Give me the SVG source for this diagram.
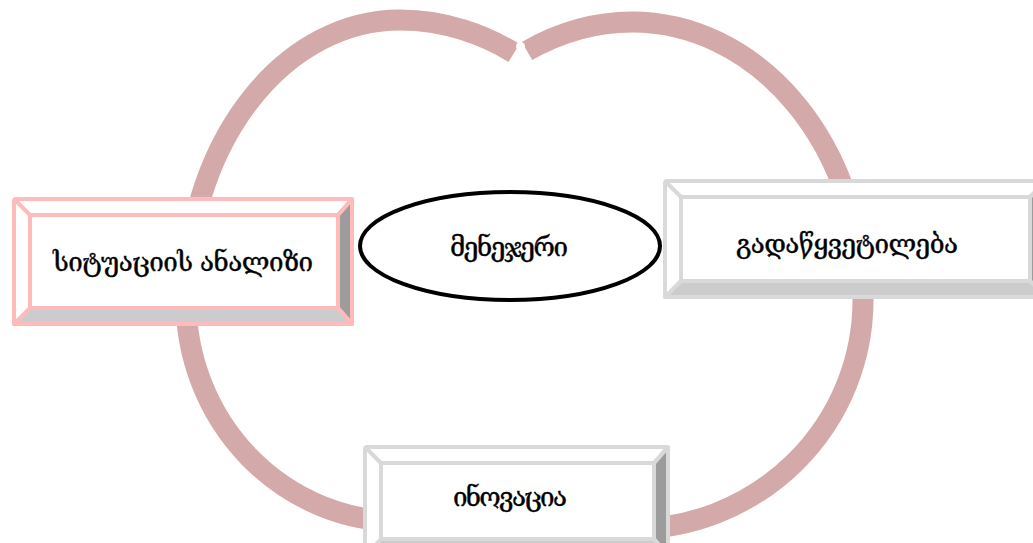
<svg xmlns="http://www.w3.org/2000/svg" width="1033" height="543" viewBox="0 0 1033 543">
<style>
.band{fill:none;stroke:#D3A9A9;stroke-width:21;stroke-linecap:butt}
.pk{stroke:#FFBBBB;stroke-width:4;stroke-linejoin:round}
.gy{stroke:#D9D9D9;stroke-width:4;stroke-linejoin:round}
.face{fill:#FFFFFF}
.dark{fill:#9C9C9C}
.mid{fill:#CCCCCC}
.lbl{font-family:"DejaVu Serif","DejaVu Sans",serif;font-size:26px;fill:#000;stroke:#000;stroke-width:0.4;text-anchor:middle}
</style>
<rect width="1033" height="543" fill="#FFFFFF"/>
<g id="connectors">
<path class="band" d="M514,53 C485,35 445,20 400,20 A214,280 0 0 0 186,300 A214,221.5 0 0 0 400,521.5"/>
<path class="band" d="M527,51 C555,35 590,22 632,22 A231,278 0 0 1 863,300 A231,229 0 0 1 632,529"/>
<circle cx="520.5" cy="46.5" r="4.5" fill="#FFFFFF"/>
<polygon points="518,48 523,48 528,63 512,63" fill="#FFFFFF"/>
</g>
<g id="node-situation">
<rect class="pk face" x="14" y="199" width="338" height="125" rx="2"/>
<polygon class="pk dark" points="352,199 352,324 338,308 338,215"/>
<polygon class="pk mid" points="14,324 352,324 338,308 30,308"/>
<rect class="pk face" x="30" y="215" width="308" height="93"/>
<path class="pk" d="M14,199 L30,215 M352,199 L338,215"/>
<text class="lbl" x="183" y="271" textLength="260">სიტუაციის ანალიზი</text>
</g>
<g id="node-manager">
<ellipse cx="510" cy="246" rx="150" ry="54" fill="#FFFFFF" stroke="#000" stroke-width="4"/>
<text class="lbl" x="509" y="256" textLength="118">მენეჯერი</text>
</g>
<g id="node-decision">
<rect class="gy face" x="665" y="181" width="381" height="116" rx="2"/>
<polygon class="gy dark" points="1046,181 1046,297 1030,281 1030,197"/>
<polygon class="gy mid" points="665,297 1046,297 1030,281 681,281"/>
<rect class="gy face" x="681" y="197" width="349" height="84"/>
<path class="gy" d="M665,181 L681,197 M1046,181 L1030,197"/>
<text class="lbl" x="847" y="253" textLength="222">გადაწყვეტილება</text>
</g>
<g id="node-innovation">
<rect class="gy face" x="365" y="447" width="303" height="109" rx="2"/>
<polygon class="gy dark" points="668,447 668,556 654,539 654,463"/>
<polygon class="gy mid" points="365,556 668,556 654,539 381,539"/>
<rect class="gy face" x="381" y="463" width="273" height="76"/>
<path class="gy" d="M365,447 L381,463 M668,447 L654,463"/>
<text class="lbl" x="510" y="506" textLength="114">ინოვაცია</text>
</g>
</svg>
